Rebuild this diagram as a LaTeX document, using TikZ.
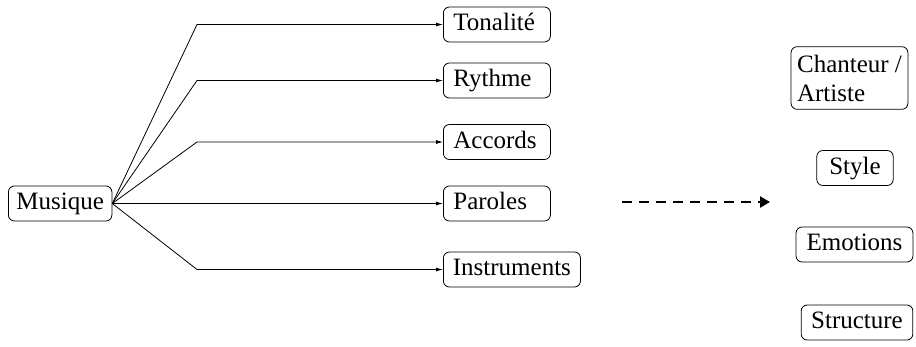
\documentclass[tikz,border=0pt]{standalone}
\usepackage{fontspec}
\setmainfont{Liberation Serif}
\usetikzlibrary{arrows.meta}
\begin{document}
\begin{tikzpicture}[x=1pt,y=-1pt,
  every node/.style={font=\fontsize{25}{29}\selectfont},
  box/.style={draw, line width=0.8pt, rounded corners=6pt, inner xsep=8pt, inner ysep=5.5pt,
              text height=18pt, text depth=6pt},
  leaf/.style={box, anchor=west, text width=87pt, align=left, inner xsep=10pt},
  aspect/.style={box, inner xsep=11pt},
  branch/.style={line width=0.8pt, -{Latex[length=7pt,width=4pt]}}
]
\useasboundingbox (0,0) rectangle (916,346);

% root
\node[box, anchor=west] (root) at (8,203.5) {Musique};

% features
\node[leaf] (ton) at (443,24.5) {Tonalité};
\node[leaf] (ryt) at (443,80.5) {Rythme};
\node[leaf] (acc) at (443,142) {Accords};
\node[leaf] (par) at (443,203.5) {Paroles};
\node[box, anchor=west, inner xsep=9.5pt] (ins) at (443,269.5) {Instruments};

% elbows
\foreach \n in {ton,ryt,acc,par,ins}
  \draw[branch] (root.east) -- (197,0 |- \n.west) -- (\n.west);

% dashed arrow
\coordinate (da) at (622,202);
\coordinate (db) at (770,202);
\draw[line width=2.8pt, dash pattern=on 10pt off 7pt, -{Triangle[length=10pt,width=11pt]}] (da) -- (db);

% aspects
\node[draw, line width=0.8pt, rounded corners=6pt, align=left, inner xsep=6pt, inner ysep=8pt] (cha) at (849.5,78) {Chanteur /\\Artiste};
\node[aspect, inner xsep=12.5pt] (sty) at (855,168) {Style};
\node[aspect, inner xsep=10.5pt] (emo) at (854.5,244.5) {Emotions};
\node[aspect, inner xsep=10pt] (str) at (857,322.5) {Structure};
\end{tikzpicture}
\end{document}
